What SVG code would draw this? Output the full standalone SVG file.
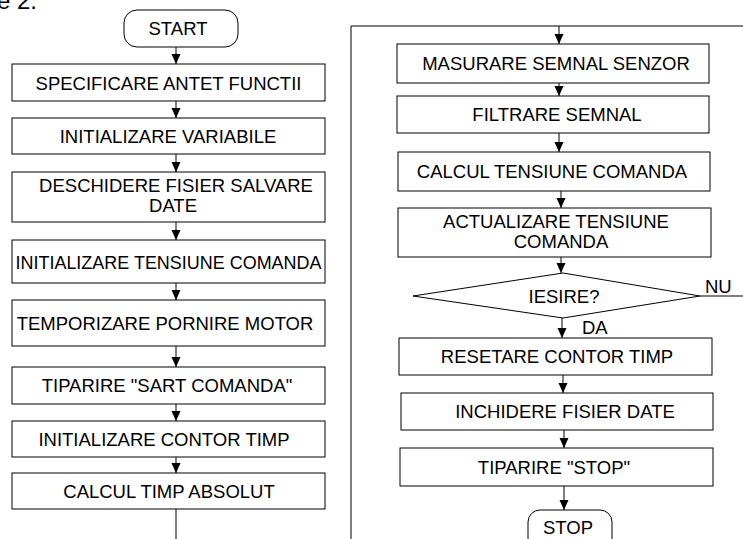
<svg xmlns="http://www.w3.org/2000/svg" width="743" height="539" viewBox="0 0 743 539">
<defs>
<style>
.b{fill:#fff;stroke:#000;stroke-width:1}
.t{font-family:"Liberation Sans",Arial,sans-serif;font-size:18.5px;fill:#000;text-anchor:middle}
.l{font-family:"Liberation Sans",Arial,sans-serif;font-size:18.5px;fill:#000}
.c{fill:none;stroke:#000;stroke-width:1}
</style>
<marker id="ah" markerWidth="10" markerHeight="10" refX="10" refY="5" orient="auto" markerUnits="userSpaceOnUse">
<path d="M0,0.5 L10,5 L0,9.5 Z" fill="#000"/>
</marker>
</defs>
<rect width="743" height="539" fill="#fff"/>
<text x="-3" y="9" style="font-family:'Liberation Sans',Arial,sans-serif;font-size:24px">e 2.</text>
<g id="connectors">
<line class="c" x1="176" y1="47" x2="176" y2="64" marker-end="url(#ah)"/>
<line class="c" x1="176" y1="101" x2="176" y2="118" marker-end="url(#ah)"/>
<line class="c" x1="176" y1="154" x2="176" y2="172" marker-end="url(#ah)"/>
<line class="c" x1="176" y1="222" x2="176" y2="240" marker-end="url(#ah)"/>
<line class="c" x1="176" y1="283" x2="176" y2="300" marker-end="url(#ah)"/>
<line class="c" x1="176" y1="346" x2="176" y2="367" marker-end="url(#ah)"/>
<line class="c" x1="176" y1="404" x2="176" y2="421" marker-end="url(#ah)"/>
<line class="c" x1="176" y1="457" x2="176" y2="473" marker-end="url(#ah)"/>
<line class="c" x1="176" y1="509" x2="176" y2="539"/>
<polyline class="c" points="351,539 351,26 743,26"/>
<line class="c" x1="559" y1="26" x2="559" y2="44" marker-end="url(#ah)"/>
<line class="c" x1="559" y1="83" x2="559" y2="96" marker-end="url(#ah)"/>
<line class="c" x1="559" y1="133" x2="559" y2="152" marker-end="url(#ah)"/>
<line class="c" x1="561" y1="191" x2="561" y2="208" marker-end="url(#ah)"/>
<line class="c" x1="561" y1="257" x2="561" y2="273" marker-end="url(#ah)"/>
<line class="c" x1="700" y1="296" x2="743" y2="296"/>
<line class="c" x1="562" y1="318" x2="562" y2="338" marker-end="url(#ah)"/>
<line class="c" x1="563" y1="375" x2="563" y2="393" marker-end="url(#ah)"/>
<line class="c" x1="564" y1="430" x2="564" y2="448" marker-end="url(#ah)"/>
<line class="c" x1="564" y1="486" x2="564" y2="510" marker-end="url(#ah)"/>
<text class="l" x="705" y="293">NU</text>
<text class="l" x="582" y="334">DA</text>
</g>
<g id="start"><rect class="b" x="124" y="10" width="114" height="37" rx="13" ry="13"/><text class="t" x="178" y="35">START</text></g>
<g id="n1"><rect class="b" x="12" y="64" width="313" height="37"/><text class="t" x="168.5" y="90">SPECIFICARE ANTET FUNCTII</text></g>
<g id="n2"><rect class="b" x="12" y="118" width="313" height="36"/><text class="t" x="168" y="143">INITIALIZARE VARIABILE</text></g>
<g id="n3"><rect class="b" x="12" y="172" width="313" height="50"/><text class="t" x="176" y="192">DESCHIDERE FISIER SALVARE</text><text class="t" x="173" y="212">DATE</text></g>
<g id="n4"><rect class="b" x="12" y="240" width="313" height="43"/><text class="t" x="168.5" y="269" textLength="306" lengthAdjust="spacingAndGlyphs">INITIALIZARE TENSIUNE COMANDA</text></g>
<g id="n5"><rect class="b" x="12" y="300" width="313" height="46"/><text class="t" x="165" y="330">TEMPORIZARE PORNIRE MOTOR</text></g>
<g id="n6"><rect class="b" x="12" y="367" width="313" height="37"/><text class="t" x="167" y="392">TIPARIRE "SART COMANDA"</text></g>
<g id="n7"><rect class="b" x="12" y="421" width="313" height="36"/><text class="t" x="164" y="446">INITIALIZARE CONTOR TIMP</text></g>
<g id="n8"><rect class="b" x="12" y="473" width="313" height="36"/><text class="t" x="169" y="498">CALCUL TIMP ABSOLUT</text></g>
<g id="n9"><rect class="b" x="397" y="44" width="312" height="39"/><text class="t" x="556" y="70">MASURARE SEMNAL SENZOR</text></g>
<g id="n10"><rect class="b" x="397" y="96" width="312" height="37"/><text class="t" x="557" y="121">FILTRARE SEMNAL</text></g>
<g id="n11"><rect class="b" x="398" y="152" width="312" height="39"/><text class="t" x="552" y="178">CALCUL TENSIUNE COMANDA</text></g>
<g id="n12"><rect class="b" x="398" y="208" width="313" height="49"/><text class="t" x="556" y="228">ACTUALIZARE TENSIUNE</text><text class="t" x="561" y="248">COMANDA</text></g>
<g id="d1"><polygon class="b" points="563,273 700,296 563,318 413,296"/><text class="t" x="564" y="303">IESIRE?</text></g>
<g id="n13"><rect class="b" x="399" y="338" width="313" height="37"/><text class="t" x="557" y="363">RESETARE CONTOR TIMP</text></g>
<g id="n14"><rect class="b" x="401" y="393" width="312" height="37"/><text class="t" x="565" y="418">INCHIDERE FISIER DATE</text></g>
<g id="n15"><rect class="b" x="400" y="448" width="313" height="38"/><text class="t" x="554" y="474">TIPARIRE "STOP"</text></g>
<g id="stop"><rect class="b" x="528" y="510" width="84" height="40" rx="12" ry="12"/><text class="t" x="568" y="534">STOP</text></g>
</svg>
